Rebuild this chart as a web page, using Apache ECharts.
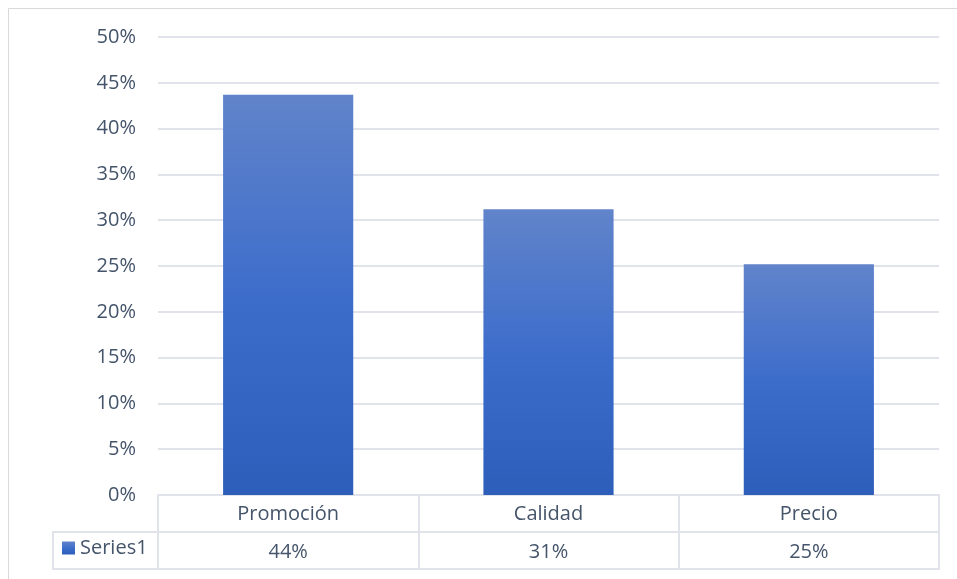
<!DOCTYPE html>
<html>
<head>
<meta charset="utf-8">
<script src="https://cdn.jsdelivr.net/npm/echarts@6/dist/echarts.min.js"></script>
<style>
  html, body { margin: 0; padding: 0; background: #fff; }
  #chart { width: 957px; height: 579px; }
</style>
</head>
<body>
<div id="chart"></div>
<script>
// Share of responses per factor
const categories = ['Promoción', 'Calidad', 'Precio'];
const seriesName = 'Series1';
const shares = [0.437, 0.312, 0.252];
const yTicks = { min: 0, max: 0.5, step: 0.05 };

const textColor = '#44546a';
const lineColor = '#e0e3e9';
const font = '"Open Sans", "Noto Sans", sans-serif';
const pct = v => Math.round(v * 100) + '%';

// plot area and data-table geometry
const W = 957, H = 579;
const plot = { left: 158, right: 939, top: 37, bottom: 495 };
const rowH = 37;
const legendCellLeft = 53;

const barFill = new echarts.graphic.LinearGradient(0, 0, 0, 1, [
  { offset: 0, color: '#6184ca' },
  { offset: 0.5, color: '#3d6dcb' },
  { offset: 1, color: '#2d5eba' }
]);

const chart = echarts.init(document.getElementById('chart'), null, { renderer: 'canvas' });

const tableAxis = (offset, showLabel, showTick) => ({
  type: 'category',
  data: categories,
  position: 'bottom',
  offset: offset,
  boundaryGap: true,
  axisLine: { show: true, lineStyle: { color: lineColor, width: 2 } },
  axisTick: { show: showTick, interval: 0, length: rowH, inside: false,
              lineStyle: { color: lineColor, width: 2 } },
  splitLine: { show: false },
  axisLabel: { show: showLabel, interval: 0, color: textColor, fontFamily: font, fontSize: 20 }
});

const xCats = tableAxis(0, true, true);
xCats.axisLabel.margin = 9;

const xValues = tableAxis(rowH, true, true);
xValues.axisLabel.margin = 10;
xValues.axisLabel.formatter = (v, i) => pct(shares[i]);

const xBottom = tableAxis(rowH * 2, false, false);

chart.setOption({
  animation: false,
  backgroundColor: '#ffffff',
  grid: {
    left: plot.left, right: W - plot.right, top: plot.top, bottom: H - plot.bottom,
    containLabel: false
  },
  legend: {
    data: [seriesName],
    left: 62, top: 538, padding: 0,
    icon: 'rect', itemWidth: 13, itemHeight: 13, itemGap: 5,
    textStyle: { color: textColor, fontFamily: font, fontSize: 20, padding: [0, 0, 0, 0] }
  },
  xAxis: [xCats, xValues, xBottom],
  yAxis: {
    type: 'value',
    min: yTicks.min, max: yTicks.max, interval: yTicks.step,
    axisLine: { show: false },
    axisTick: { show: false },
    splitLine: { show: true, lineStyle: { color: lineColor, width: 2 } },
    axisLabel: { color: textColor, fontFamily: font, fontSize: 20, margin: 22, formatter: pct }
  },
  series: [{
    name: seriesName,
    type: 'bar',
    xAxisIndex: 0,
    data: shares,
    barWidth: '50%',
    itemStyle: { color: barFill }
  }],
  graphic: [
    // outer chart border
    { type: 'rect', silent: true, z: 0,
      shape: { x: 8.5, y: 8.5, width: W + 10, height: H + 10 },
      style: { fill: null, stroke: '#d9d9d9', lineWidth: 1 } },
    // legend cell of the data table
    { type: 'polyline', silent: true, z: 1,
      shape: { points: [
        [plot.left, plot.bottom + rowH],
        [legendCellLeft, plot.bottom + rowH],
        [legendCellLeft, plot.bottom + rowH * 2],
        [plot.left, plot.bottom + rowH * 2]
      ] },
      style: { fill: null, stroke: lineColor, lineWidth: 2 } }
  ]
});
</script>
</body>
</html>
